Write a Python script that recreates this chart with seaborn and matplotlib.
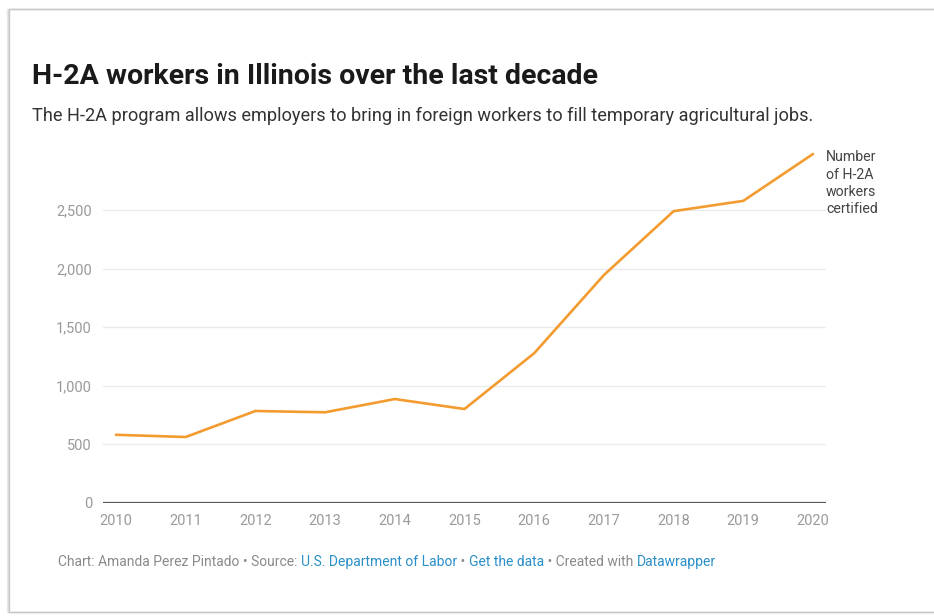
import matplotlib
matplotlib.use("Agg")
import matplotlib.pyplot as plt
from matplotlib.patches import Rectangle
import seaborn as sns
import pandas as pd

# H-2A certifications in Illinois, 2010-2020
years = [2010, 2011, 2012, 2013, 2014, 2015, 2016, 2017, 2018, 2019, 2020]
workers = [582, 563, 785, 774, 887, 802, 1278, 1945, 2490, 2578, 2978]
y_ticks = [0, 500, 1000, 1500, 2000, 2500]
y_tick_labels = ["0", "500", "1,000", "1,500", "2,000", "2,500"]

title = "H-2A workers in Illinois over the last decade"
subtitle = ("The H-2A program allows employers to bring in foreign workers "
            "to fill temporary agricultural jobs.")
series_label = "Number\nof H-2A\nworkers\ncertified"

df = pd.DataFrame({"year": years, "workers": workers})

sns.set_theme(style="white")
plt.rcParams["font.family"] = ["Roboto", "DejaVu Sans"]

W, H = 934, 616
fig = plt.figure(figsize=(W / 100, H / 100), dpi=100)
fig.patch.set_facecolor("white")

def fx(px):
    return px / W

def fy(py):
    return 1 - py / H

# card outline with soft shadow, kept behind everything else
for off, col in [(2.5, "#ececec"), (1.5, "#dcdcdc"), (0.5, "#c8c8c8")]:
    fig.patches.append(Rectangle((fx(9 - off), fy(612)), 1.2, fy(9) - fy(612),
                                 transform=fig.transFigure, fill=False,
                                 edgecolor=col, linewidth=1.0, zorder=-10))

# plot area
left_px, right_px, base_px, top_px = 103, 826, 503, 151.4
ax = fig.add_axes([fx(left_px), fy(base_px), fx(right_px - left_px),
                   (base_px - top_px) / H])
ax.set_facecolor("none")

sns.lineplot(data=df, x="year", y="workers", ax=ax, color="#F39B2F",
             linewidth=1.9, clip_on=False)

step = (813 - 116) / 10
ax.set_xlim(2010 - 13 / step, 2020 + 13 / step)
ax.set_ylim(0, 3000)

for t in y_ticks[1:]:
    ax.axhline(t, color="#ebebeb", linewidth=1.0, zorder=0)
ax.axhline(0, color="#5a5a5a", linewidth=1.6, zorder=1)

for s in ax.spines.values():
    s.set_visible(False)

ax.set_xticks(years)
ax.set_xticklabels([str(y) for y in years])
ax.set_yticks(y_ticks)
ax.set_yticklabels(y_tick_labels)
ax.tick_params(axis="both", length=0, labelsize=10.5, labelcolor="#9a9a9a")
ax.tick_params(axis="x", pad=8)
ax.tick_params(axis="y", pad=8)
ax.set_xlabel("")
ax.set_ylabel("")

ax.text(2020 + 13 / step, 3010, series_label, ha="left", va="top",
        fontsize=10.2, color="#444444", linespacing=1.3,
        transform=ax.transData, clip_on=False)

fig.text(fx(32), fy(77), title, ha="left", va="center", fontsize=20.5,
         fontweight="bold", color="#1a1a1a")
fig.text(fx(32), fy(116), subtitle, ha="left", va="center", fontsize=13.1,
         color="#333333")

# footer with linked segments in blue
grey, blue = "#8a8a8a", "#2a8fc8"
parts = [("Chart: Amanda Perez Pintado • Source: ", grey),
         ("U.S. Department of Labor", blue),
         (" • ", grey),
         ("Get the data", blue),
         (" • Created with ", grey),
         ("Datawrapper", blue)]
fig.canvas.draw()
renderer = fig.canvas.get_renderer()
x = fx(58)
for txt, col in parts:
    t = fig.text(x, fy(566), txt, ha="left", va="baseline", fontsize=10,
                 color=col)
    bb = t.get_window_extent(renderer=renderer)
    x += bb.width / W

fig.savefig("out.png", dpi=100, facecolor="white")
